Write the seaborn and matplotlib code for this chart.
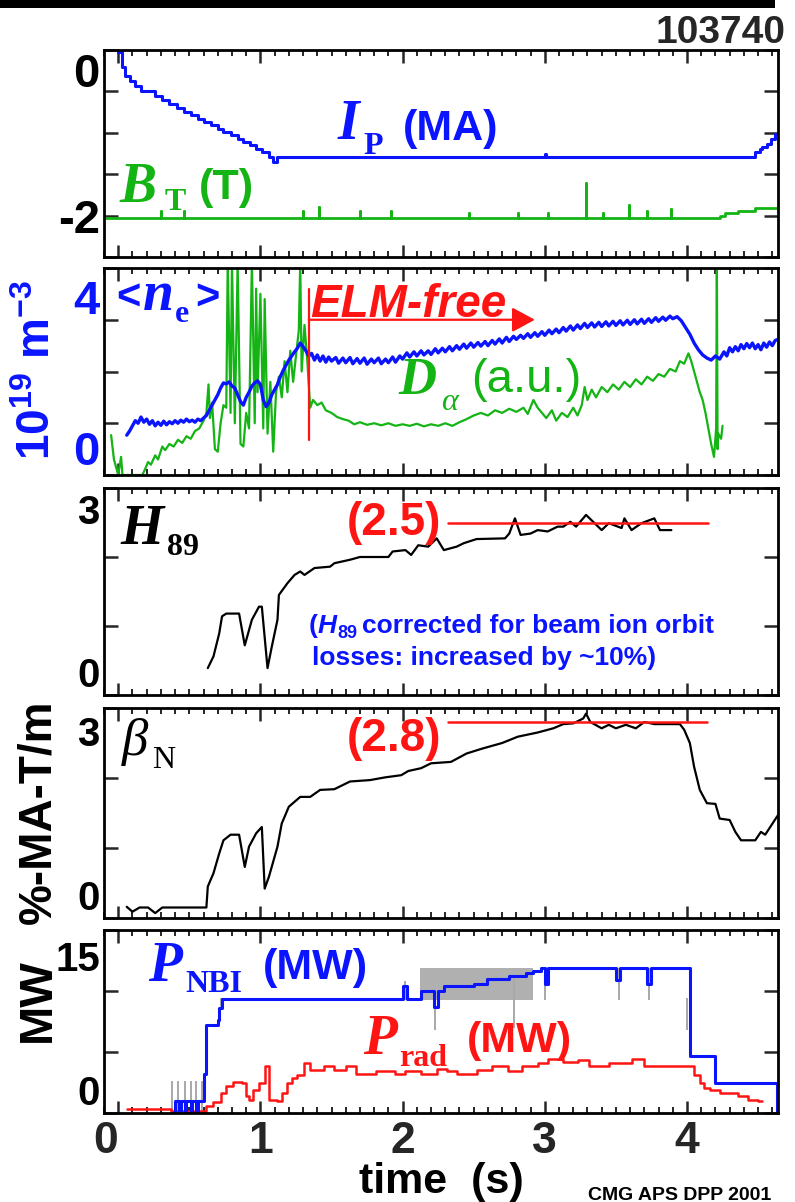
import numpy as np
import pandas as pd
import matplotlib
matplotlib.use('Agg')
import matplotlib.pyplot as plt
import seaborn as sns
from matplotlib import font_manager as fm
from matplotlib.ticker import MultipleLocator
from matplotlib.patches import Rectangle
from matplotlib.transforms import ScaledTranslation

# ---------------- data ----------------
shot = "103740"

ip_t = [0.00, 0.03, 0.05, 0.08, 0.12, 0.16, 0.21, 0.26, 0.31, 0.36, 0.41, 0.46, 0.51, 0.56, 0.60,
        0.65, 0.70, 0.74, 0.79, 0.84, 0.88, 0.93, 0.97, 1.01, 1.06, 1.09, 1.12, 2.99, 3.00, 3.01,
        4.45, 4.48, 4.51, 4.53, 4.56, 4.59, 4.62, 4.64]
ip_v = [-0.02, -0.20, -0.32, -0.38, -0.44, -0.50, -0.50, -0.55, -0.60, -0.65, -0.70, -0.75, -0.79,
        -0.83, -0.87, -0.91, -0.95, -0.99, -1.03, -1.07, -1.11, -1.15, -1.19, -1.23, -1.29, -1.35,
        -1.29, -1.29, -1.25, -1.29, -1.29, -1.23, -1.20, -1.17, -1.13, -1.07, -1.02, -1.00]

bt_t = [-0.10, 0.30, 0.30, 0.30, 0.46, 0.46, 0.46, 1.30, 1.30, 1.30, 1.41, 1.41, 1.41, 1.70, 1.70, 1.70,
        1.92, 1.92, 1.92, 2.47, 2.47, 2.47, 2.81, 2.81, 2.81, 3.02, 3.02, 3.02, 3.29, 3.29, 3.29,
        3.41, 3.41, 3.41, 3.59, 3.59, 3.59, 3.72, 3.72, 3.72, 3.89, 3.89, 3.89, 4.23, 4.23, 4.27,
        4.27, 4.36, 4.36, 4.48, 4.48, 4.64]
bt_v = [-2.03, -2.03, -1.95, -2.03, -2.03, -1.95, -2.03, -2.03, -1.95, -2.03, -2.03, -1.90, -2.03,
        -2.03, -1.95, -2.03, -2.03, -1.95, -2.03, -2.03, -1.97, -2.03, -2.03, -1.97, -2.03, -2.03,
        -1.97, -2.03, -2.03, -1.61, -2.03, -2.03, -1.97, -2.03, -2.03, -1.87, -2.03, -2.03, -1.95,
        -2.03, -2.03, -1.92, -2.03, -2.03, -2.00, -2.00, -1.97, -1.97, -1.94, -1.94, -1.91, -1.91]

ne_t = [0.06, 0.08, 0.10, 0.12, 0.14, 0.16, 0.18, 0.20, 0.22, 0.24, 0.26, 0.28, 0.30, 0.32, 0.34,
        0.36, 0.38, 0.40, 0.42, 0.44, 0.46, 0.48, 0.50, 0.52, 0.54, 0.56, 0.58, 0.60, 0.62, 0.64,
        0.66, 0.68, 0.70, 0.72, 0.74, 0.76, 0.78, 0.80, 0.82, 0.84, 0.86, 0.88, 0.90, 0.92, 0.94,
        0.96, 0.98, 1.00, 1.02, 1.04, 1.06, 1.08, 1.10, 1.12, 1.14, 1.16, 1.18, 1.20, 1.22, 1.24,
        1.26, 1.28, 1.30, 1.32, 1.34, 1.36, 1.38, 1.40, 1.42, 1.44, 1.46, 1.48, 1.50, 1.53, 1.55,
        1.58, 1.60, 1.63, 1.65, 1.68, 1.70, 1.73, 1.75, 1.78, 1.80, 1.83, 1.85, 1.88, 1.90, 1.93,
        1.95, 1.98, 2.00, 2.03, 2.05, 2.08, 2.10, 2.13, 2.15, 2.18, 2.20, 2.23, 2.25, 2.28, 2.30,
        2.33, 2.35, 2.38, 2.40, 2.43, 2.45, 2.48, 2.50, 2.53, 2.55, 2.58, 2.60, 2.63, 2.65, 2.68,
        2.70, 2.73, 2.75, 2.78, 2.80, 2.83, 2.85, 2.88, 2.90, 2.93, 2.95, 2.98, 3.00, 3.03, 3.05,
        3.08, 3.10, 3.13, 3.15, 3.18, 3.20, 3.23, 3.25, 3.28, 3.30, 3.33, 3.35, 3.38, 3.40, 3.43,
        3.45, 3.48, 3.50, 3.53, 3.55, 3.58, 3.60, 3.63, 3.65, 3.68, 3.70, 3.73, 3.75, 3.78, 3.80,
        3.83, 3.85, 3.88, 3.90, 3.93, 3.96, 3.99, 4.02, 4.05, 4.08, 4.11, 4.14, 4.17, 4.20, 4.23,
        4.26, 4.28, 4.30, 4.32, 4.34, 4.36, 4.38, 4.40, 4.42, 4.44, 4.46, 4.48, 4.50, 4.52, 4.54,
        4.56, 4.58, 4.60, 4.62, 4.64]
ne_v = [0.77, 0.85, 0.95, 1.05, 1.00, 1.12, 1.02, 1.08, 0.98, 1.05, 0.95, 1.02, 0.96, 1.04, 0.97,
        1.03, 0.99, 1.05, 1.00, 1.06, 1.02, 1.08, 1.03, 1.06, 1.02, 1.08, 1.05, 1.10, 1.15, 1.25,
        1.35, 1.45, 1.55, 1.68, 1.78, 1.76, 1.80, 1.72, 1.68, 1.55, 1.42, 1.35, 1.50, 1.60, 1.72,
        1.78, 1.82, 1.75, 1.45, 1.32, 1.40, 1.55, 1.65, 1.75, 1.90, 2.02, 2.12, 2.22, 2.30, 2.38,
        2.45, 2.55, 2.48, 2.40, 2.30, 2.35, 2.22, 2.32, 2.20, 2.30, 2.18, 2.28, 2.20, 2.27, 2.16,
        2.26, 2.17, 2.27, 2.15, 2.25, 2.16, 2.26, 2.14, 2.24, 2.17, 2.26, 2.15, 2.24, 2.17, 2.28,
        2.18, 2.30, 2.24, 2.36, 2.28, 2.38, 2.30, 2.40, 2.32, 2.40, 2.33, 2.44, 2.36, 2.45, 2.38,
        2.48, 2.40, 2.50, 2.43, 2.53, 2.45, 2.55, 2.47, 2.56, 2.49, 2.58, 2.50, 2.60, 2.53, 2.63,
        2.55, 2.66, 2.58, 2.68, 2.62, 2.70, 2.64, 2.73, 2.66, 2.75, 2.68, 2.77, 2.70, 2.80, 2.73,
        2.82, 2.75, 2.85, 2.78, 2.88, 2.80, 2.90, 2.83, 2.93, 2.85, 2.94, 2.86, 2.95, 2.87, 2.96,
        2.88, 2.97, 2.89, 2.98, 2.90, 2.99, 2.91, 3.00, 2.92, 3.01, 2.93, 3.02, 2.95, 3.04, 2.97,
        3.05, 2.99, 3.07, 3.02, 3.06, 2.98, 2.85, 2.72, 2.55, 2.42, 2.32, 2.26, 2.22, 2.30, 2.24,
        2.38, 2.30, 2.46, 2.38, 2.48, 2.40, 2.52, 2.44, 2.54, 2.46, 2.55, 2.44, 2.52, 2.42, 2.55,
        2.47, 2.57, 2.50, 2.60, 2.62]

da_t = [-0.05, -0.03, 0.00, 0.02, 0.03, 0.17, 0.19, 0.21, 0.23, 0.26, 0.28, 0.31, 0.33, 0.36, 0.39,
        0.42, 0.45, 0.48, 0.51, 0.54, 0.57, 0.60, 0.62, 0.635, 0.645, 0.66, 0.68, 0.70, 0.72, 0.74,
        0.76, 0.77, 0.79, 0.80, 0.82, 0.84, 0.86, 0.88, 0.90, 0.92, 0.94, 0.96, 0.97, 0.98, 1.00,
        1.02, 1.03, 1.05, 1.07, 1.09, 1.11, 1.13, 1.15, 1.17, 1.19, 1.21, 1.23, 1.25, 1.27, 1.28,
        1.29, 1.31, 1.33, 1.35, 1.37, 1.40, 1.43, 1.46, 1.50, 1.54, 1.58, 1.62, 1.66, 1.70, 1.75,
        1.80, 1.85, 1.90, 1.95, 2.00, 2.05, 2.10, 2.15, 2.20, 2.25, 2.30, 2.35, 2.40, 2.45, 2.50,
        2.55, 2.60, 2.65, 2.70, 2.75, 2.80, 2.85, 2.88, 2.92, 2.95, 2.98, 3.01, 3.05, 3.08, 3.12,
        3.16, 3.20, 3.23, 3.26, 3.28, 3.30, 3.33, 3.36, 3.40, 3.44, 3.48, 3.52, 3.56, 3.60, 3.64,
        3.68, 3.72, 3.76, 3.80, 3.84, 3.88, 3.92, 3.95, 3.98, 4.01, 4.03, 4.06, 4.09, 4.11, 4.13,
        4.15, 4.17, 4.19, 4.205, 4.21, 4.215, 4.22, 4.24, 4.25]
da_v = [0.77, 0.30, 0.00, 0.35, 0.00, 0.00, 0.12, 0.25, 0.20, 0.38, 0.30, 0.55, 0.48, 0.60, 0.55,
        0.68, 0.62, 0.75, 0.70, 0.85, 0.90, 1.05, 1.20, 1.75, 1.10, 1.40, 0.50, 0.45, 1.00, 1.35,
        1.30, 4.10, 1.20, 4.10, 1.00, 4.10, 0.60, 0.55, 1.20, 0.90, 4.10, 1.00, 3.60, 1.60, 3.50,
        0.90, 3.40, 0.80, 1.80, 0.45, 1.60, 1.90, 1.50, 2.20, 1.60, 2.40, 1.80, 2.30, 2.80, 4.10,
        2.00, 2.90, 2.20, 1.30, 1.45, 1.35, 1.40, 1.25, 1.20, 1.12, 1.08, 1.05, 0.98, 1.02, 0.97,
        1.00, 0.96, 1.00, 0.95, 0.98, 0.95, 0.99, 0.94, 0.98, 0.95, 1.00, 0.95, 1.02, 1.08, 1.15,
        1.20, 1.15, 1.25, 1.20, 1.28, 1.22, 1.30, 1.18, 1.45, 1.30, 1.20, 1.10, 1.25, 1.05, 1.20,
        1.12, 1.30, 1.15, 1.35, 1.70, 1.45, 1.65, 1.50, 1.70, 1.60, 1.75, 1.65, 1.80, 1.70, 1.85,
        1.75, 1.90, 1.82, 1.95, 1.90, 2.05, 2.00, 2.20, 2.15, 2.35, 2.20, 1.90, 1.60, 1.45, 1.20,
        0.90, 0.60, 0.35, 0.90, 4.10, 0.50, 0.80, 0.70, 0.95]

elm_t0, elm_t1 = 1.34, 2.93
elm_lo, elm_hi, elm_y = 0.68, 3.6, 3.0

h89_t = [0.63, 0.67, 0.71, 0.73, 0.76, 0.85, 0.89, 0.94, 0.99, 1.01, 1.05, 1.08, 1.12, 1.13, 1.19,
         1.24, 1.28, 1.31, 1.38, 1.49, 1.52, 1.63, 1.70, 1.90, 1.93, 2.02, 2.06, 2.11, 2.18, 2.24,
         2.29, 2.38, 2.43, 2.52, 2.72, 2.75, 2.79, 2.83, 2.90, 2.95, 3.02, 3.09, 3.13, 3.18, 3.22,
         3.29, 3.34, 3.40, 3.45, 3.54, 3.56, 3.61, 3.68, 3.77, 3.81, 3.89]
h89_v = [0.39, 0.56, 0.89, 1.14, 1.18, 1.18, 0.72, 1.09, 1.28, 1.28, 0.39, 0.70, 1.09, 1.45, 1.62,
         1.74, 1.79, 1.74, 1.84, 1.86, 1.91, 1.96, 2.00, 2.00, 2.08, 2.10, 2.03, 2.17, 2.15, 2.27,
         2.10, 2.15, 2.20, 2.26, 2.27, 2.34, 2.56, 2.32, 2.34, 2.39, 2.37, 2.44, 2.44, 2.51, 2.44,
         2.61, 2.51, 2.39, 2.49, 2.42, 2.56, 2.39, 2.49, 2.56, 2.39, 2.39]
h89_ref, h89_ref_t0, h89_ref_t1 = 2.5, 2.32, 4.15

bn_t = [0.06, 0.10, 0.15, 0.21, 0.26, 0.31, 0.62, 0.63, 0.67, 0.71, 0.74, 0.79, 0.85, 0.89, 0.92,
        0.97, 1.01, 1.03, 1.06, 1.12, 1.15, 1.20, 1.28, 1.35, 1.42, 1.52, 1.63, 1.77, 1.88, 1.99,
        2.04, 2.13, 2.20, 2.34, 2.45, 2.56, 2.70, 2.81, 2.95, 3.06, 3.13, 3.20, 3.27, 3.29, 3.32,
        3.40, 3.45, 3.50, 3.57, 3.64, 3.70, 3.77, 3.95, 3.98, 4.02, 4.05, 4.09, 4.14, 4.20, 4.23,
        4.30, 4.34, 4.38, 4.48, 4.52, 4.55, 4.64]
bn_v = [0.16, 0.09, 0.15, 0.15, 0.07, 0.15, 0.15, 0.45, 0.64, 0.92, 1.11, 1.19, 1.19, 0.73, 1.02,
        1.21, 1.30, 0.42, 0.59, 1.02, 1.35, 1.59, 1.73, 1.73, 1.83, 1.84, 1.95, 1.97, 2.01, 2.04,
        2.10, 2.14, 2.21, 2.23, 2.35, 2.42, 2.50, 2.59, 2.65, 2.71, 2.77, 2.78, 2.85, 2.92, 2.80,
        2.71, 2.76, 2.71, 2.76, 2.71, 2.80, 2.77, 2.77, 2.69, 2.50, 2.16, 1.83, 1.64, 1.63, 1.42,
        1.40, 1.23, 1.11, 1.11, 1.23, 1.19, 1.47]
bn_ref, bn_ref_t0, bn_ref_t1 = 2.8, 2.32, 4.14

nbi_t = [0.38, 0.40, 0.43, 0.44, 0.47, 0.48, 0.51, 0.52, 0.55, 0.56, 0.60, 0.62, 0.70, 0.71, 0.73,
         2.00, 2.03, 2.13, 2.22, 2.25, 2.29, 2.50, 2.59, 2.75, 2.87, 2.92, 2.97, 3.00, 3.02, 3.50,
         3.53, 3.72, 3.75, 4.02, 4.20, 4.63, 4.64]
nbi_v = [0.00, 0.95, 0.00, 0.95, 0.00, 0.95, 0.00, 0.95, 0.00, 0.95, 3.20, 7.20, 7.60, 8.60, 9.35,
         10.40, 9.35, 10.00, 8.70, 10.00, 10.40, 10.60, 11.00, 11.20, 11.45, 11.60, 11.86, 10.60,
         11.86, 10.90, 11.86, 10.60, 11.86, 4.70, 2.50, 0.00, 0.00]

nbi_gray_t = [0.38, 0.42, 0.47, 0.51, 0.55, 0.59, 0.72, 2.02, 2.23, 2.78, 3.00, 3.52, 3.73, 4.00]
nbi_gray_lo = [0.0, 0.0, 0.0, 0.0, 0.0, 0.0, 8.6, 9.3, 6.8, 7.0, 9.3, 9.3, 9.3, 6.8]
nbi_gray_hi = [2.6, 2.6, 2.6, 2.6, 2.6, 2.6, 9.4, 10.8, 10.0, 11.2, 11.9, 11.9, 11.9, 9.4]
nbi_band_t = [2.12, 2.92]
nbi_band_lo, nbi_band_hi = 9.3, 11.9

rad_t = [0.06, 0.37, 0.62, 0.67, 0.72, 0.76, 0.81, 0.87, 0.90, 0.92, 0.95, 0.99, 1.03, 1.06, 1.12,
         1.15, 1.19, 1.22, 1.26, 1.31, 1.35, 1.45, 1.52, 1.60, 1.67, 1.81, 1.95, 2.02, 2.13, 2.24,
         2.31, 2.38, 2.52, 2.63, 2.74, 2.84, 2.95, 3.02, 3.13, 3.23, 3.31, 3.45, 3.61, 3.70, 3.81,
         4.05, 4.09, 4.12, 4.16, 4.23, 4.36, 4.43, 4.50, 4.53]
rad_v = [0.33, 0.15, 0.55, 0.87, 1.64, 2.18, 2.54, 2.45, 1.36, 1.09, 1.91, 2.45, 3.82, 1.09, 0.95,
         1.64, 2.45, 2.86, 3.14, 4.09, 3.55, 3.82, 3.55, 3.82, 3.22, 3.41, 3.22, 3.41, 3.22, 3.60,
         3.41, 3.22, 3.49, 3.82, 3.41, 3.82, 4.09, 4.42, 4.15, 4.36, 3.82, 4.09, 4.42, 3.82, 3.82,
         3.14, 2.45, 2.05, 1.85, 1.64, 1.36, 1.09, 0.95, 0.95]

x_ticks = [0, 1, 2, 3, 4]

# ---------------- style ----------------
sns.set_style('ticks')
names = {f.name for f in fm.fontManager.ttflist}
SANS = 'Liberation Sans Narrow' if 'Liberation Sans Narrow' in names else 'Liberation Sans'
SERIF = 'Liberation Serif'
plt.rcParams['font.family'] = [SANS, 'DejaVu Sans']
plt.rcParams['mathtext.fontset'] = 'custom'
plt.rcParams['mathtext.rm'] = SANS + ':bold'
plt.rcParams['mathtext.bf'] = SANS + ':bold'
plt.rcParams['mathtext.it'] = SANS + ':bold:italic'
plt.rcParams['axes.unicode_minus'] = False

BLUE = '#0a14ff'
GREEN = '#14b414'
RED = '#ff1414'
W, H = 795, 1202

fig = plt.figure(figsize=(W / 100, H / 100), dpi=100)

panels = [(50, 257), (268, 475), (488, 695), (708, 918), (930, 1113)]
axes = []
for top, bot in panels:
    ax = fig.add_axes([104 / W, 1 - bot / H, (778 - 104) / W, (bot - top) / H])
    axes.append(ax)


def line(ax, t, v, color, lw, steps=False):
    sns.lineplot(x=t, y=v, ax=ax, color=color, lw=lw, estimator=None, sort=False,
                 errorbar=None, legend=False,
                 drawstyle='steps-post' if steps else 'default')


ax1, ax2, ax3, ax4, ax5 = axes
line(ax1, ip_t, ip_v, BLUE, 2.2, steps=True)
line(ax1, bt_t, bt_v, GREEN, 2.0)
line(ax2, da_t, da_v, GREEN, 1.6)
line(ax2, ne_t, ne_v, BLUE, 2.4)
ax2.plot([elm_t0, elm_t0], [elm_lo, elm_hi], color=RED, lw=1.6)
ax2.annotate('', xy=(elm_t1, elm_y), xytext=(elm_t0, elm_y),
             arrowprops=dict(arrowstyle='-|>,head_length=0.7,head_width=0.38', color=RED,
                             lw=1.6, shrinkA=0, shrinkB=0, mutation_scale=20))
line(ax3, h89_t, h89_v, 'black', 1.6)
ax3.plot([h89_ref_t0, h89_ref_t1], [h89_ref, h89_ref], color=RED, lw=1.8)
line(ax4, bn_t, bn_v, 'black', 1.6)
ax4.plot([bn_ref_t0, bn_ref_t1], [bn_ref, bn_ref], color=RED, lw=1.8)
ax5.fill_between(nbi_band_t, nbi_band_lo, nbi_band_hi, color='#b0b0b0', lw=0)
ax5.vlines(nbi_gray_t, nbi_gray_lo, nbi_gray_hi, color='#a8a8a8', lw=1.4)
line(ax5, rad_t, rad_v, RED, 1.8, steps=True)
line(ax5, nbi_t, nbi_v, BLUE, 2.2, steps=True)

ylims = [(-2.5, 0), (0, 4), (0, 3), (0, 3), (0, 15)]
yticks = [[-2.5, -2, -1.5, -1, -0.5, 0], [0, 1, 2, 3, 4], [0, 1, 2, 3], [0, 1, 2, 3], [0, 5, 10, 15]]
ylabs = [['', '-2', '', '', '', '0'], ['0', '', '', '', '4'], ['0', '', '', '3'],
         ['0', '', '', '3'], ['0', '', '', '15']]
ycols = ['black', BLUE, 'black', 'black', 'black']
ysize = [34, 34, 29, 29, 29]
top_shift = [3, 12, 6, 8, 11]
for i, ax in enumerate(axes):
    ax.set_xlim(-0.1, 4.64)
    ax.set_ylim(*ylims[i])
    ax.set_xticks(x_ticks)
    ax.xaxis.set_minor_locator(MultipleLocator(0.1))
    ax.set_yticks(yticks[i], ylabs[i], fontsize=ysize[i], fontweight='bold', color=ycols[i])
    ax.tick_params(axis='x', which='major', direction='in', top=True, bottom=True,
                   length=9, width=1.8)
    ax.tick_params(axis='x', which='minor', direction='in', top=True, bottom=True,
                   length=4.5, width=1.4)
    ax.tick_params(axis='y', which='major', direction='in', left=True, right=True,
                   length=10, width=1.8, pad=3)
    for s in ax.spines.values():
        s.set_linewidth(2.0)
        s.set_color('black')
    ax.set_xlabel('')
    ax.set_ylabel('')
    if i < 4:
        ax.set_xticklabels([])

ax5.set_xticks(x_ticks, [str(v) for v in x_ticks], fontsize=32, fontweight='bold')
ax5.tick_params(axis='x', which='major', pad=6)
ax5.get_xticklabels()[0].set_ha('right')

for i, ax in enumerate(axes):
    labs = ax.get_yticklabels()
    labs[-1].set_va('top')
    labs[-1].set_transform(labs[-1].get_transform() +
                           ScaledTranslation(0, -top_shift[i] / 100, fig.dpi_scale_trans))
    if i > 0:
        labs[0].set_va('bottom')


# ---------------- texts ----------------
def ftxt(x, y, s, **kw):
    kw.setdefault('ha', 'left')
    kw.setdefault('va', 'baseline')
    return fig.text(x / W, 1 - y / H, s, **kw)


def chain(x, y, pieces):
    r = fig.canvas.get_renderer()
    cx = x
    for s, dx, dy, kw in pieces:
        cx += dx
        t = ftxt(cx, y + dy, s, **kw)
        cx += t.get_window_extent(r).width


SBI = dict(family=SERIF, weight='bold', style='italic')
SB = dict(family=SERIF, weight='bold')
NB = dict(family=SANS, weight='bold')

fig.patches.append(Rectangle((0, 1 - 8 / H), 775 / W, 8 / H, transform=fig.transFigure,
                             color='black', lw=0))
ftxt(785, 43, shot, ha='right', fontsize=28, **NB)

ftxt(338, 139, 'I', fontsize=40, color=BLUE, **SBI)
ftxt(363, 154, 'P', fontsize=23, color=BLUE, **SB)
ftxt(403, 140, '(MA)', fontsize=31, color=BLUE, **NB)

ftxt(120, 202, 'B', fontsize=40, color=GREEN, **SBI)
ftxt(165, 210, 'T', fontsize=23, color=GREEN, **SB)
ftxt(199, 199, '(T)', fontsize=31, color=GREEN, **NB)

ftxt(116, 310, '<', fontsize=30, color=BLUE, **NB)
ftxt(143, 310, 'n', fontsize=40, color=BLUE, **SBI)
ftxt(175, 322, 'e', fontsize=23, color=BLUE, **SB)
ftxt(195, 310, '>', fontsize=30, color=BLUE, **NB)

ftxt(310, 317, 'ELM-free', fontsize=33, color=RED, family=SANS, weight='bold', style='italic')

ftxt(398, 394, 'D', fontsize=38, color=GREEN, **SBI)
ftxt(441, 410, 'α', fontsize=23, color=GREEN, family=SERIF, style='italic')
ftxt(471, 392, '(a.u.)', fontsize=34, color=GREEN, family=SANS)

ftxt(120, 544, 'H', fontsize=40, color='black', **SBI)
ftxt(167, 555, '89', fontsize=23, color='black', **SB)
ftxt(347, 535, '(2.5)', fontsize=33, color=RED, **NB)

chain(309, 633, [('(', 0, 0, dict(fontsize=19, color=BLUE, **NB)),
                 ('H', 0, 0, dict(fontsize=19, color=BLUE, family=SANS, weight='bold', style='italic')),
                 ('89', 0, 5, dict(fontsize=13, color=BLUE, **NB)),
                 ('corrected for beam ion orbit', 5, 0, dict(fontsize=19, color=BLUE, **NB))])
ftxt(312, 665, 'losses: increased by ~10%)', fontsize=19, color=BLUE, **NB)

ftxt(122, 755, 'β', fontsize=38, color='black', family=SERIF, style='italic')
ftxt(152, 768, 'N', fontsize=23, color='black', family=SERIF)
ftxt(347, 751, '(2.8)', fontsize=33, color=RED, **NB)

ftxt(148, 981, 'P', fontsize=40, color=BLUE, **SBI)
ftxt(185, 992, 'NBI', fontsize=23, color=BLUE, **SB)
ftxt(263, 979, '(MW)', fontsize=31, color=BLUE, **NB)

ftxt(363, 1054, 'P', fontsize=40, color=RED, **SBI)
ftxt(399, 1066, 'rad', fontsize=23, color=RED, **SB)
ftxt(467, 1052, '(MW)', fontsize=31, color=RED, **NB)

fig.text(38 / W, 1 - 370 / H, r'10$^{\mathbf{19}}$ m$^{\mathbf{-3}}$', rotation=90, ha='center',
         va='center', fontsize=33, color=BLUE, **NB)
fig.text(38 / W, 1 - 812 / H, '%-MA-T/m', rotation=90, ha='center', va='center',
         fontsize=33, color='black', **NB)
fig.text(38 / W, 1 - 1000 / H, 'MW', rotation=90, ha='center', va='center',
         fontsize=34, color='black', **NB)

ftxt(441, 1193, 'time  (s)', ha='center', fontsize=31, color='black', **NB)
ftxt(588, 1200, 'CMG APS DPP 2001', fontsize=14, color='black', **NB)

fig.savefig('out.png', dpi=100)
